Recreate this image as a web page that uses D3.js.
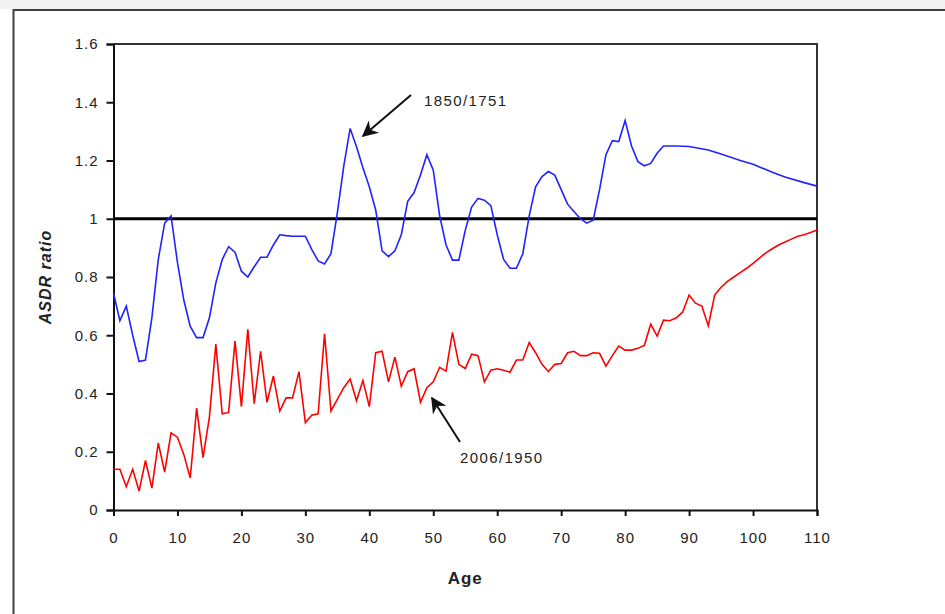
<!DOCTYPE html>
<html>
<head>
<meta charset="utf-8">
<script src="https://cdn.jsdelivr.net/npm/d3@7"></script>
<style>
  body { margin: 0; background: #fff; }
  svg { display: block; font-family: "Liberation Sans", Arial, sans-serif; }
</style>
</head>
<body>
<div id="wrapper"></div>
<script>
// ages for the annual 2006/1950 ratio
const redAges = d3.range(0, 111);
const redValues = [
  0.14, 0.14, 0.08, 0.14, 0.065, 0.17, 0.075, 0.23, 0.13, 0.265,
  0.25, 0.19, 0.11, 0.35, 0.18, 0.32, 0.57, 0.33, 0.335, 0.58,
  0.355, 0.62, 0.365, 0.545, 0.37, 0.46, 0.34, 0.385, 0.385, 0.475,
  0.30, 0.325, 0.33, 0.605, 0.34, 0.38, 0.42, 0.45, 0.375, 0.445,
  0.355, 0.54, 0.545, 0.44, 0.525, 0.425, 0.475, 0.485, 0.37, 0.42,
  0.44, 0.49, 0.477, 0.61, 0.50, 0.486, 0.535, 0.53, 0.44, 0.48,
  0.485, 0.48, 0.473, 0.515, 0.515, 0.575, 0.54, 0.50, 0.475, 0.50,
  0.503, 0.54, 0.545, 0.53, 0.53, 0.54, 0.538, 0.494, 0.53, 0.563,
  0.549, 0.549, 0.555, 0.565, 0.638, 0.597, 0.652, 0.65, 0.66, 0.68,
  0.738, 0.71, 0.70, 0.632, 0.738, 0.765, 0.785, 0.80, 0.815, 0.83,
  0.847, 0.865, 0.883, 0.897, 0.91, 0.92, 0.93, 0.94, 0.945, 0.953,
  0.961
];

// 1850/1751 ratio (smoothed)
const blueAges = [
  0, 1, 2, 3, 4, 5, 6, 7, 8, 9, 10, 11, 12, 13, 14, 15, 16, 17, 18, 19,
  20, 21, 22, 23, 24, 25, 26, 27, 28, 29, 30, 31, 32, 33, 34, 35, 36, 37, 38, 39,
  40, 41, 42, 43, 44, 45, 46, 47, 48, 49, 50, 51, 52, 53, 54, 55, 56, 57, 58, 59,
  60, 61, 62, 63, 64, 65, 66, 67, 68, 69, 70, 71, 72, 73, 74, 75, 76, 77, 78, 79,
  80, 81, 82, 83, 84, 85, 86, 88, 90, 93, 95, 98, 100, 103, 105, 108, 110
];
const blueValues = [
  0.745, 0.65, 0.70, 0.60, 0.51, 0.515, 0.66, 0.86, 0.985, 1.01,
  0.85, 0.72, 0.63, 0.592, 0.592, 0.66, 0.78, 0.86, 0.904, 0.885,
  0.82, 0.80, 0.835, 0.868, 0.868, 0.91, 0.945, 0.942, 0.94, 0.94,
  0.94, 0.895, 0.855, 0.845, 0.88, 1.02, 1.18, 1.31, 1.247, 1.175,
  1.11, 1.03, 0.89, 0.87, 0.89, 0.945, 1.06, 1.09, 1.15, 1.22,
  1.167, 1.01, 0.91, 0.858, 0.858, 0.96, 1.04, 1.07, 1.064, 1.045,
  0.945, 0.86, 0.83, 0.83, 0.88, 1.01, 1.11, 1.145, 1.162, 1.15,
  1.10, 1.05, 1.025, 1.0, 0.985, 0.995, 1.10, 1.22, 1.268, 1.265,
  1.337, 1.25, 1.196, 1.182, 1.19, 1.225, 1.25, 1.25, 1.248, 1.236,
  1.222, 1.20, 1.187, 1.16, 1.143, 1.124, 1.112
];

const yTicks = [0, 0.2, 0.4, 0.6, 0.8, 1, 1.2, 1.4, 1.6];
const xTicks = [0, 10, 20, 30, 40, 50, 60, 70, 80, 90, 100, 110];
const refLine = 1;

const width = 945;
const height = 614;

const svg = d3.select("#wrapper")
  .append("svg")
  .attr("width", width)
  .attr("height", height);

// grey strip and outer frame, like the cropped worksheet
svg.append("rect").attr("x", 0).attr("y", 0).attr("width", width).attr("height", 9).attr("fill", "#f2f2f2");
svg.append("path")
  .attr("d", "M13.5,614 L13.5,10 L945,10")
  .attr("fill", "none").attr("stroke", "#404040").attr("stroke-width", 2);

const xScale = d3.scaleLinear().domain([0, 110]).range([113.5, 817]);
const yScale = d3.scaleLinear().domain([0, 1.6]).range([510, 44]);

// plot frame (top and right)
svg.append("path")
  .attr("d", `M${xScale(0)},${yScale(1.6)} L${xScale(110)},${yScale(1.6)} L${xScale(110)},${yScale(0)}`)
  .attr("fill", "none").attr("stroke", "#333").attr("stroke-width", 2);

const fmt = d3.format("~g");

const yAxis = svg.append("g")
  .attr("transform", `translate(${xScale(0)},0)`)
  .call(d3.axisLeft(yScale).tickValues(yTicks).tickFormat(fmt).tickSize(7).tickPadding(8));

const xAxis = svg.append("g")
  .attr("transform", `translate(0,${yScale(0)})`)
  .call(d3.axisBottom(xScale).tickValues(xTicks).tickSizeOuter(0).tickSize(6).tickPadding(16));

[yAxis, xAxis].forEach(function(g) {
  g.select(".domain").attr("stroke", "#111").attr("stroke-width", 2);
  g.selectAll(".tick line").attr("stroke", "#111").attr("stroke-width", 2);
  g.selectAll(".tick text")
    .attr("fill", "#222")
    .style("font-size", "15px")
    .style("letter-spacing", "1px")
    .style("font-family", "Liberation Sans, Arial, sans-serif");
});

// ratio = 1 reference
svg.append("line")
  .attr("x1", xScale(0)).attr("x2", xScale(110))
  .attr("y1", yScale(refLine)).attr("y2", yScale(refLine))
  .attr("stroke", "#000").attr("stroke-width", 3);

const line = d3.line()
  .x(function(d) { return xScale(d[0]); })
  .y(function(d) { return yScale(d[1]); });

svg.append("path")
  .datum(d3.zip(redAges, redValues))
  .attr("d", line)
  .attr("fill", "none").attr("stroke", "#ff0000").attr("stroke-width", 1.6);

svg.append("path")
  .datum(d3.zip(blueAges, blueValues))
  .attr("d", line)
  .attr("fill", "none").attr("stroke", "#2222ff").attr("stroke-width", 1.6);

// axis titles
svg.append("text")
  .attr("x", (xScale(0) + xScale(110)) / 2)
  .attr("y", 584)
  .attr("text-anchor", "middle")
  .style("font-size", "17px").style("font-weight", "bold").style("letter-spacing", "1px")
  .attr("fill", "#222")
  .text("Age");

svg.append("text")
  .attr("transform", `translate(51,${(yScale(0) + yScale(1.6)) / 2}) rotate(-90)`)
  .attr("text-anchor", "middle")
  .style("font-size", "16px").style("font-weight", "bold").style("font-style", "italic")
  .style("letter-spacing", "1px")
  .attr("fill", "#222")
  .text("ASDR ratio");

// annotations with arrows
const defs = svg.append("defs");
defs.append("marker")
  .attr("id", "head")
  .attr("viewBox", "0 0 10 10")
  .attr("refX", 9).attr("refY", 5)
  .attr("markerWidth", 22).attr("markerHeight", 16)
  .attr("markerUnits", "userSpaceOnUse")
  .attr("orient", "auto")
  .append("path").attr("d", "M0,0 L10,5 L0,10 L3,5 Z").attr("fill", "#111");

const notes = [
  { text: "1850/1751", tx: 424, ty: 106, x1: 411, y1: 95, x2: 363, y2: 136 },
  { text: "2006/1950", tx: 460, ty: 463, x1: 460, y1: 442, x2: 432, y2: 398 }
];

notes.forEach(function(n) {
  svg.append("line")
    .attr("x1", n.x1).attr("y1", n.y1).attr("x2", n.x2).attr("y2", n.y2)
    .attr("stroke", "#111").attr("stroke-width", 2)
    .attr("marker-end", "url(#head)");
  svg.append("text")
    .attr("x", n.tx).attr("y", n.ty)
    .style("font-size", "15px").style("letter-spacing", "1.4px")
    .attr("fill", "#222")
    .text(n.text);
});
</script>
</body>
</html>
